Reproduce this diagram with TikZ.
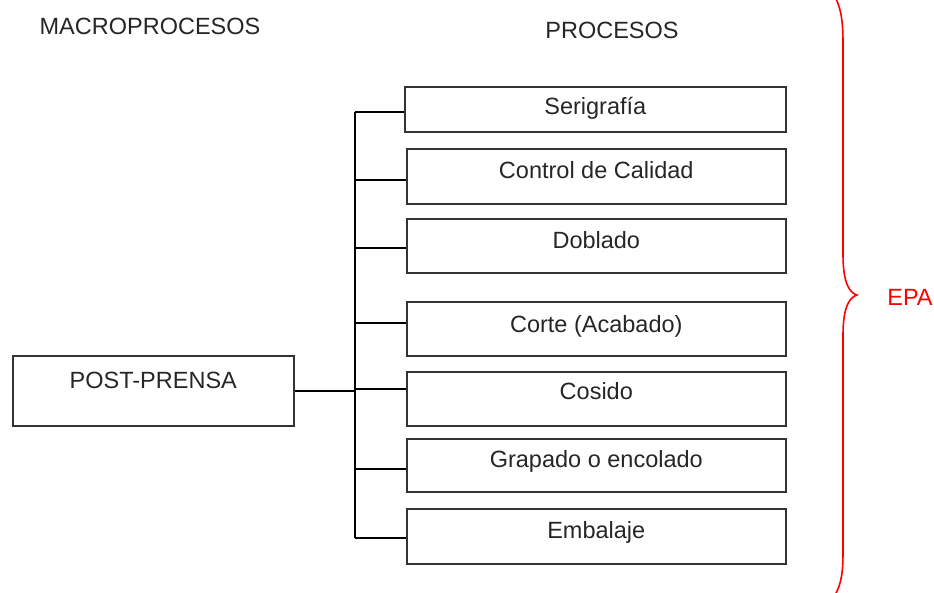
\documentclass[tikz,border=0pt]{standalone}
\usepackage{fontspec}
\setmainfont{Liberation Sans}
\definecolor{boxgray}{HTML}{333333}
\definecolor{epared}{HTML}{FF0000}
\begin{document}
\begin{tikzpicture}[x=1pt,y=-1pt,
  font=\fontsize{23.5}{27}\selectfont,
  pbox/.style={draw=boxgray, line width=1.6pt, inner sep=0pt, anchor=north west, align=center, text=black!85},
  conn/.style={draw=black, line width=1.4pt},
  hdr/.style={inner sep=0pt, text=black!85}]
\useasboundingbox (0,0) rectangle (934,592);
% headers
\node[hdr] (hm) at (150,26) {MACROPROCESOS};
\node[hdr] (hp) at (612,30) {PROCESOS};
% macro box
\node[pbox, minimum width=281pt, text height=33pt, text depth=37pt] (pp) at (12,355) {POST-PRENSA};
% process boxes
\node[pbox, minimum width=381pt, text height=28pt, text depth=17pt] (s1) at (404,86) {Serigrafía};
\node[pbox, minimum width=379pt, text height=30pt, text depth=25pt] (s2) at (406,148) {Control de Calidad};
\node[pbox, minimum width=379pt, text height=30pt, text depth=24pt] (s3) at (406,218) {Doblado};
\node[pbox, minimum width=379pt, text height=31pt, text depth=23pt] (s4) at (406,301) {Corte (Acabado)};
\node[pbox, minimum width=379pt, text height=28pt, text depth=26pt] (s5) at (406,371) {Cosido};
\node[pbox, minimum width=379pt, text height=29pt, text depth=24pt] (s6) at (406,438) {Grapado o encolado};
\node[pbox, minimum width=379pt, text height=30pt, text depth=25pt] (s7) at (406,508) {Embalaje};
% bus
\coordinate (b1) at (355,112);
\coordinate (b2) at (355,180);
\coordinate (b3) at (355,248);
\coordinate (b4) at (355,323);
\coordinate (b5) at (355,389);
\coordinate (b6) at (355,469);
\coordinate (b7) at (355,538);
\draw[conn] (b1) -- (b7);
\draw[conn] (pp.east) -- (pp.east -| b5);
\draw[conn] (b1) -- (b1 -| s1.west);
\draw[conn] (b2) -- (b2 -| s2.west);
\draw[conn] (b3) -- (b3 -| s3.west);
\draw[conn] (b4) -- (b4 -| s4.west);
\draw[conn] (b5) -- (b5 -| s5.west);
\draw[conn] (b6) -- (b6 -| s6.west);
\draw[conn] (b7) -- (b7 -| s7.west);
% brace
\draw[epared, line width=1.6pt] (835,-3) .. controls (842,10) and (843,25) .. (843,45) -- (843,255)
  .. controls (843,284) and (850,293) .. (857,295)
  .. controls (850,297) and (843,306) .. (843,335) -- (843,550)
  .. controls (843,570) and (842,583) .. (835,595);
\node[inner sep=0pt, text=epared] (epa) at (910,297) {EPA};
\end{tikzpicture}
\end{document}
